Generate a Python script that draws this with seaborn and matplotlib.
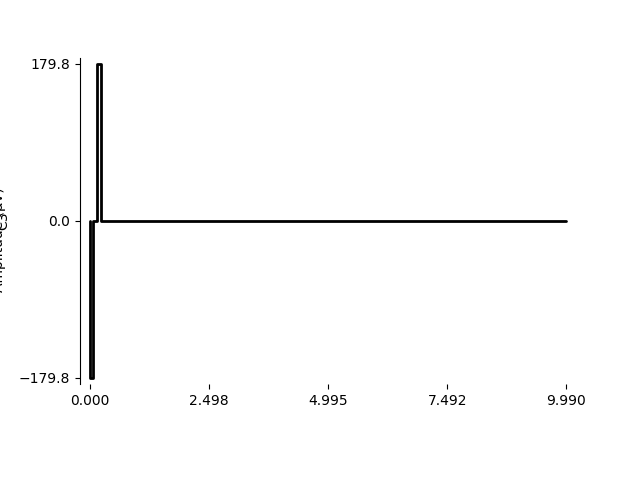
import numpy as np
import matplotlib
matplotlib.use("Agg")
import matplotlib.pyplot as plt
import seaborn as sns

# breakpoints of the C3 trace (seconds, microvolts)
times = [0.00, 0.00, 0.07, 0.07, 0.15, 0.15, 0.23, 0.23, 9.99]
amps = [0.0, -179.8, -179.8, 0.0, 0.0, 179.8, 179.8, 0.0, 0.0]
xticks = [0.000, 2.498, 4.995, 7.492, 9.990]
yticks = [-179.8, 0.0, 179.8]
channel = "C3"

sns.set_style("ticks", {"axes.edgecolor": "black", "text.color": "black",
                        "xtick.color": "black", "ytick.color": "black",
                        "axes.labelcolor": "black"})
plt.rcParams['font.family'] = ['DejaVu Sans']

fig = plt.figure(figsize=(6.4, 4.8), dpi=100)
ax = fig.add_axes([0.125, 0.2, 0.775, 0.68])

sns.lineplot(x=times, y=amps, ax=ax, color="black", linewidth=2,
             sort=False, estimator=None, errorbar=None)

ax.set_xlim(-0.02 * 9.99, 9.99 * 1.02)
ax.set_ylim(-179.8 * 1.04, 179.8 * 1.04)
ax.set_xticks(xticks)
ax.set_xticklabels([f"{t:.3f}" for t in xticks])
ax.set_yticks(yticks)
ax.set_yticklabels([f"{v:.1f}".replace("-", "\u2212") for v in yticks])

for s in ["top", "right", "bottom"]:
    ax.spines[s].set_visible(False)

ax.set_ylabel(channel, fontsize=10)
ax.yaxis.set_label_coords(-0.14, 0.5)
fig.text(-0.001, 0.5, "Amplitude (µV)", rotation=90, ha="center", va="center", fontsize=10)

fig.savefig("out.png", dpi=100)
